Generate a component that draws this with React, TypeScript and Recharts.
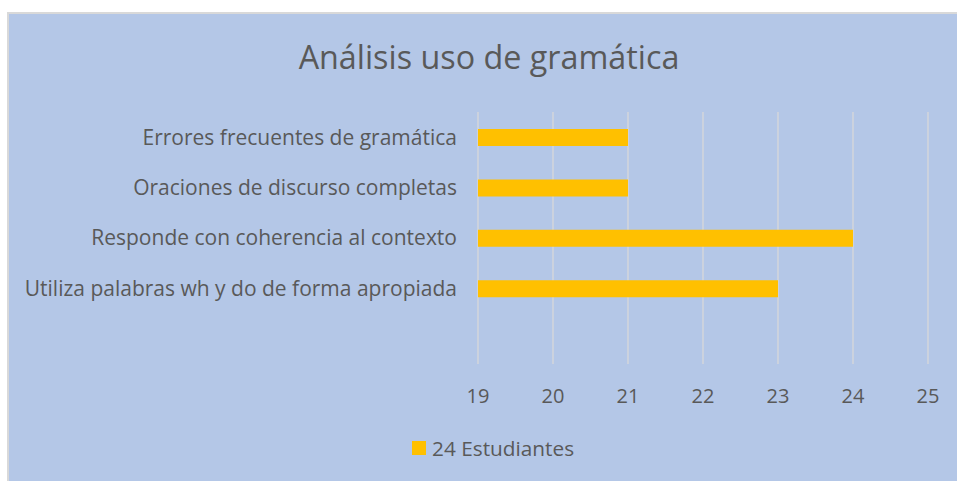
import React from 'react';
import { BarChart, Bar, XAxis, YAxis, CartesianGrid, Legend } from 'recharts';

// Categories top to bottom (last slot is empty in the original)
const categories = [
  'Errores frecuentes de gramática',
  'Oraciones de discurso completas',
  'Responde con coherencia al contexto',
  'Utiliza palabras wh y do de forma apropiada',
  '',
];
const estudiantes = [21, 21, 24, 23, null];
const xTicks = [19, 20, 21, 22, 23, 24, 25];

const seriesName = '24 Estudiantes';
const chartData = categories.map((name, i) => ({ name, value: estudiantes[i] }));

const FONT = '"Open Sans", sans-serif';
const TEXT = '#595959';

function LegendBox() {
  return (
    <div style={{ display: 'flex', alignItems: 'center', fontFamily: FONT, fontSize: 20.8, color: TEXT }}>
      <span style={{ width: 14, height: 14, background: '#FFC000', marginRight: 6, display: 'inline-block' }} />
      {seriesName}
    </div>
  );
}

export default function App() {
  return (
    <div style={{ position: 'fixed', inset: 0, overflow: 'hidden', background: '#fff' }}>
      <div
        style={{
          position: 'absolute',
          left: 7,
          top: 12,
          width: 950,
          height: 470,
          background: '#B4C7E7',
          borderLeft: '2px solid #D9D9D9',
          borderTop: '2px solid #D9D9D9',
          boxSizing: 'border-box',
        }}
      >
        <div
          style={{
            position: 'absolute',
            left: 0,
            top: 20,
            width: 960,
            textAlign: 'center',
            fontFamily: FONT,
            fontSize: 32.3,
            color: TEXT,
          }}
        >
          Análisis uso de gramática
        </div>
        <BarChart
          width={948}
          height={468}
          data={chartData}
          layout="vertical"
          margin={{ top: 98, right: 29, bottom: 40, left: 0 }}
          barSize={17}
        >
          <CartesianGrid horizontal={false} stroke="#D9D9D9" strokeWidth={1.3} />
          <XAxis
            type="number"
            domain={[19, 25]}
            ticks={xTicks}
            allowDataOverflow
            axisLine={false}
            tickLine={false}
            tickMargin={19}
            height={50}
            tick={{ fill: TEXT, fontSize: 20, fontFamily: FONT }}
          />
          <YAxis
            type="category"
            dataKey="name"
            width={469}
            axisLine={false}
            tickLine={false}
            tickMargin={15}
            interval={0}
            tick={{ fill: TEXT, fontSize: 21, fontFamily: FONT }}
          />
          <Legend
            verticalAlign="bottom"
            content={() => <LegendBox />}
            wrapperStyle={{ position: 'absolute', left: 403, top: 420, width: 220 }}
          />
          <Bar dataKey="value" name={seriesName} fill="#FFC000" isAnimationActive={false} />
        </BarChart>
      </div>
    </div>
  );
}
